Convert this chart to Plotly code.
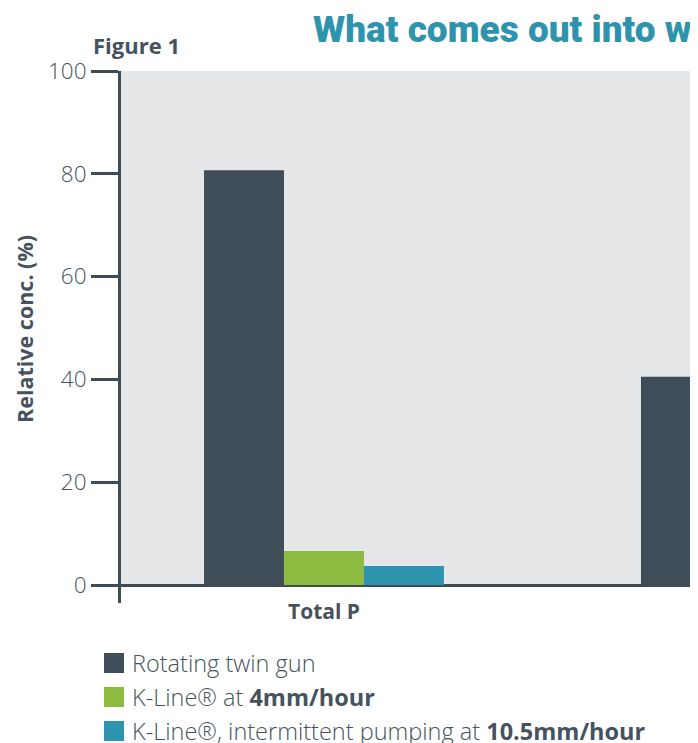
import plotly.graph_objects as go

# ---- data ----
categories = ["Total P", "Total N"]
series_names = [
    "Rotating twin gun",
    "K-Line® at <b>4mm/hour</b>",
    "K-Line®, intermittent pumping at <b>10.5mm/hour</b>",
]
rotating_twin_gun = [80.7, 40.5]
kline_4mm = [6.6, None]
kline_intermittent = [3.7, None]
y_ticks = [0, 20, 40, 60, 80, 100]

colors = ["#3f4d59", "#8dbb3f", "#2e93ad"]
axis_col = "#3f4b55"
text_col = "#46525d"
bg_grey = "#e5e6e8"

OFF = 8  # browser body margin
W, H = 698 - OFF, 743 - OFF
# reference-pixel geometry
L, T, R, B = 121, 71, 698, 603
pw, ph = R - L, B - T

def px(x):
    return (x - L) / pw

def py(y):
    return (B - y) / ph

FAM = "Open Sans"

fig = go.Figure()
for name, vals, c in zip(series_names, [rotating_twin_gun, kline_4mm, kline_intermittent], colors):
    fig.add_trace(go.Bar(x=categories, y=vals, name=name, marker_color=c,
                         marker_line_width=0, showlegend=False))

font_light = dict(family=FAM, size=23.5, color=text_col, weight=300)

fig.update_layout(
    width=W, height=H,
    margin=dict(l=L - OFF, r=0, t=T - OFF, b=H - (B - OFF), pad=0),
    paper_bgcolor="white", plot_bgcolor="white",
    barmode="group", bargap=0.451, bargroupgap=0,
    font=font_light,
    xaxis=dict(range=[-0.4645, 0.856], showline=False, showgrid=False, zeroline=False,
               ticks="", tickfont=dict(family=FAM, size=21, color=text_col, weight=700),
               ticklabelstandoff=-6),
    yaxis=dict(range=[-3.5, 100], tickvals=y_ticks, showgrid=False,
               showline=True, linewidth=3, linecolor=axis_col,
               ticks="outside", ticklen=27, tickwidth=3, tickcolor=axis_col,
               tickfont=dict(family=FAM, size=22.5, color=text_col, weight=300),
               zeroline=True, zerolinewidth=3, zerolinecolor=axis_col),
)

# grey plot background between 0 and 100
fig.add_shape(type="rect", xref="paper", yref="y", x0=0, x1=1, y0=0, y1=100,
              fillcolor=bg_grey, line_width=0, layer="below")

# y-axis title
fig.add_annotation(text="Relative conc. (%)", xref="paper", yref="paper",
                   x=px(24), y=py(329), textangle=-90, showarrow=False,
                   xanchor="center", yanchor="middle",
                   font=dict(family=FAM, size=21.5, color=text_col, weight=700))

# headings
fig.add_annotation(text="Figure 1", xref="paper", yref="paper", x=px(91), y=py(45),
                   xanchor="left", yanchor="middle", showarrow=False,
                   font=dict(family=FAM, size=22, color=text_col, weight=700))
fig.add_annotation(text="What comes out into watercourses", xref="paper", yref="paper",
                   x=px(311), y=py(30), xanchor="left", yanchor="middle", showarrow=False,
                   font=dict(family="Roboto", size=37, color="#2e93ad", weight=900))

# legend (manual)
rows = [663, 697, 731]
for name, c, yc in zip(series_names, colors, rows):
    fig.add_shape(type="rect", xref="paper", yref="paper",
                  x0=px(104), x1=px(124), y0=py(yc + 10), y1=py(yc - 10),
                  fillcolor=c, line_width=0)
    fig.add_annotation(text=name, xref="paper", yref="paper", x=px(130), y=py(yc),
                       xanchor="left", yanchor="middle", showarrow=False,
                       font=font_light)

fig.write_html("out.html")
